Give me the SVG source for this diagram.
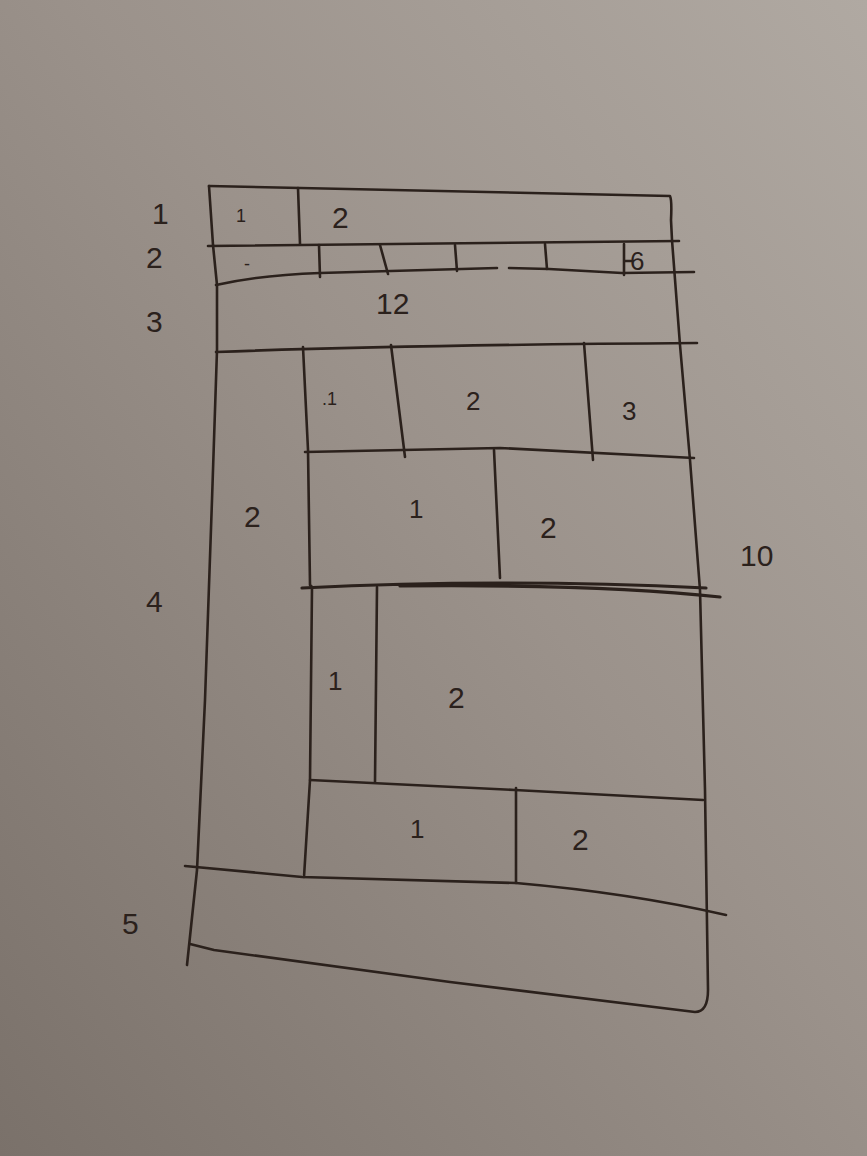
<svg xmlns="http://www.w3.org/2000/svg" width="867" height="1156" viewBox="0 0 867 1156">
<defs>
<linearGradient id="bg" x1="1" y1="0" x2="0" y2="1">
<stop offset="0" stop-color="#b0a9a2"/>
<stop offset="0.45" stop-color="#9b928b"/>
<stop offset="1" stop-color="#7a716a"/>
</linearGradient>
<style>
.ln{fill:none;stroke:#2b211c;stroke-width:2.6;stroke-linecap:round;stroke-linejoin:round}
.t{font-family:"Liberation Sans",Arial,sans-serif;fill:#2b211c;font-weight:normal}
.s{font-size:30px}
.m{font-size:26px}
.sm{font-size:18px}
</style>
</defs>
<rect width="867" height="1156" fill="url(#bg)"/>
<g id="lines" class="ln">
<path d="M209,186 L670,196 Q672,200 671,220 L672,240 L680,345 L690,460 L700,590 L705,790 L708,990 Q708,1012 695,1012 Q600,1000 450,982 L214,950 L190,944"/>
<path d="M209,186 L213,245 L217,285 L217,350 L212,500 L205,700 L197,870 L187,965"/>
<path d="M208,246 L679,241"/>
<path d="M298,188 L300,244"/>
<path d="M216,285 Q260,275 320,273 L497,268 M509,268 L549,269 L622,273 L694,272"/>
<path d="M319,245 L320,277 M380,245 L388,274 M455,245 L457,271 M545,244 L547,269 M624,244 L624,275 M624,261 L631,261"/>
<path d="M216,352 Q400,345 697,343"/>
<path d="M303,347 L308,450 L310,585 L312,587 L310,780 L304,877"/>
<path d="M391,345 L405,457 M584,343 L593,460"/>
<path d="M305,452 L500,448 L694,458"/>
<path d="M494,450 L500,578"/>
<path d="M302,588 Q500,578 706,588 M400,586 Q600,584 720,597" style="stroke-width:3.2"/>
<path d="M377,587 L375,782"/>
<path d="M310,780 L515,790 L703,800"/>
<path d="M516,788 L516,883"/>
<path d="M185,866 L302,877 L516,883 Q630,893 726,915"/>
</g>
<g id="row-labels">
<text class="t s" x="152" y="224">1</text>
<text class="t s" x="146" y="268">2</text>
<text class="t s" x="146" y="332">3</text>
<text class="t s" x="146" y="612">4</text>
<text class="t s" x="122" y="934">5</text>
<text class="t s" x="740" y="566">10</text>
</g>
<g id="row1">
<text class="t sm" x="236" y="222">1</text>
<text class="t s" x="332" y="228">2</text>
</g>
<g id="row2">
<text class="t sm" x="244" y="270">-</text>
<text class="t m" x="630" y="270">6</text>
</g>
<g id="row3">
<text class="t s" x="376" y="314">12</text>
</g>
<g id="row4">
<text class="t s" x="244" y="527">2</text>
<text class="t sm" x="322" y="405">.1</text>
<text class="t m" x="466" y="410">2</text>
<text class="t m" x="622" y="420">3</text>
<text class="t m" x="409" y="518">1</text>
<text class="t s" x="540" y="538">2</text>
<text class="t m" x="328" y="690">1</text>
<text class="t s" x="448" y="708">2</text>
<text class="t m" x="410" y="838">1</text>
<text class="t s" x="572" y="850">2</text>
</g>
</svg>
